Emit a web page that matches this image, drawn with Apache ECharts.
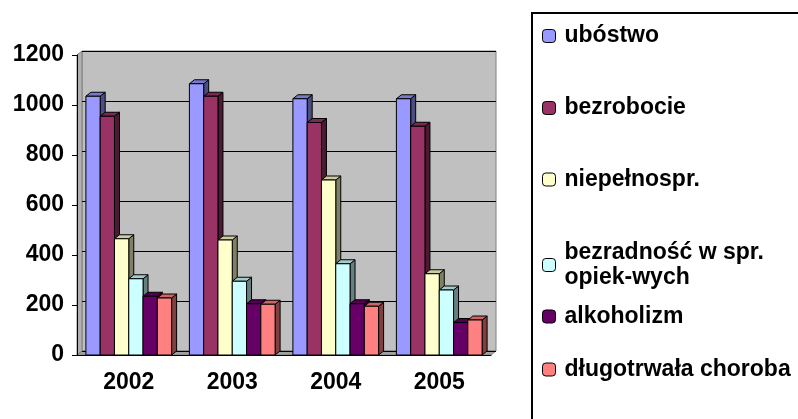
<!DOCTYPE html>
<html>
<head>
<meta charset="utf-8">
<script src="https://cdn.jsdelivr.net/npm/echarts@6/dist/echarts.min.js"></script>
<style>
  html, body { margin: 0; padding: 0; background: #fff; }
  #chart { width: 798px; height: 419px; }
</style>
</head>
<body>
<div id="chart"></div>
<script>
const years = ['2002', '2003', '2004', '2005'];
const seriesNames = ['ubóstwo', 'bezrobocie', 'niepełnospr.', 'bezradność w spr. opiek-wych', 'alkoholizm', 'długotrwała choroba'];
const ubostwo = [1035, 1085, 1025, 1025];
const bezrobocie = [955, 1035, 930, 915];
const niepelnospr = [465, 460, 700, 325];
const bezradnosc = [305, 295, 365, 260];
const alkoholizm = [235, 205, 205, 130];
const choroba = [228, 203, 195, 140];
const yTicks = [0, 200, 400, 600, 800, 1000, 1200];

const allValues = [ubostwo, bezrobocie, niepelnospr, bezradnosc, alkoholizm, choroba];
const colors = ['#9999ff', '#993366', '#ffffcc', '#ccffff', '#660066', '#ff8080'];
const legendCenters = [35.5, 107.5, 179, 252.5, 316, 369];

const FONT = '"Liberation Sans", Arial, sans-serif';
const FS = 23;
const DX = 5, DY = 4;

function shade(hex, f) {
    const n = parseInt(hex.slice(1), 16);
    const r = Math.round(((n >> 16) & 255) * f);
    const g = Math.round(((n >> 8) & 255) * f);
    const b = Math.round((n & 255) * f);
    return 'rgb(' + r + ',' + g + ',' + b + ')';
}

function makeRender(sIdx) {
    return function (params, api) {
        const ci = api.value(0);
        const v = api.value(1);
        const base = api.coord([ci, 0]);
        const top = api.coord([ci, v]);
        const band = api.size([1, 0])[0];
        const w = band * 0.138;
        const x0 = base[0] - 3 * w + sIdx * w;
        const col = colors[sIdx];
        const stroke = {stroke: '#000', lineWidth: 1};
        return {
            type: 'group',
            children: [
                {
                    type: 'polygon',
                    shape: {points: [[x0 + w, top[1]], [x0 + w + DX, top[1] - DY], [x0 + w + DX, base[1] - DY], [x0 + w, base[1]]]},
                    style: Object.assign({fill: shade(col, 0.5)}, stroke)
                },
                {
                    type: 'polygon',
                    shape: {points: [[x0, top[1]], [x0 + DX, top[1] - DY], [x0 + w + DX, top[1] - DY], [x0 + w, top[1]]]},
                    style: Object.assign({fill: shade(col, 0.8)}, stroke)
                },
                {
                    type: 'rect',
                    shape: {x: x0, y: top[1], width: w, height: base[1] - top[1]},
                    style: Object.assign({fill: col}, stroke)
                }
            ]
        };
    };
}

const series = seriesNames.map(function (name, s) {
    return {
        name: name,
        type: 'custom',
        xAxisIndex: 0,
        yAxisIndex: 0,
        itemStyle: {color: colors[s]},
        renderItem: makeRender(s),
        encode: {x: 0, y: 1},
        data: allValues[s].map(function (v, i) { return [i, v]; })
    };
});

const legends = seriesNames.map(function (name, s) {
    const twoLines = name.indexOf('opiek') >= 0;
    return {
        data: [name],
        orient: 'vertical',
        left: 542,
        top: twoLines ? legendCenters[s] - 25 : legendCenters[s] - 12,
        padding: 0,
        itemWidth: 13,
        itemHeight: 13,
        selectedMode: false,
        itemStyle: {borderColor: '#000', borderWidth: 1},
        formatter: function (n) { return n.replace(' opiek', '\nopiek'); },
        textStyle: {
            fontFamily: FONT,
            fontWeight: 'bold',
            fontSize: FS,
            color: '#000',
            lineHeight: 25,
            padding: twoLines ? [25, 0, 0, 4] : [0, 0, 0, 4]
        }
    };
});

const chart = echarts.init(document.getElementById('chart'));
chart.setOption({
    animation: false,
    backgroundColor: '#fff',
    grid: [
        {left: 77, right: 307, top: 55, bottom: 64},
        {left: 82, right: 302, top: 51, bottom: 68, show: true, backgroundColor: '#c0c0c0', borderColor: '#808080', borderWidth: 1}
    ],
    graphic: [
        {type: 'polygon', shape: {points: [[77, 55], [82, 51], [82, 351], [77, 355]]}, style: {fill: '#b0b0b0', stroke: '#808080'}},
        {type: 'polygon', shape: {points: [[77, 355], [82, 351], [496, 351], [491, 355]]}, style: {fill: '#a0a0a0', stroke: '#808080'}},
        {type: 'rect', shape: {x: 532, y: 13, width: 300, height: 450}, style: {fill: 'none', stroke: '#000', lineWidth: 2}}
    ],
    legend: legends,
    xAxis: [
        {
            type: 'category',
            gridIndex: 0,
            data: years,
            axisLine: {lineStyle: {color: '#000'}},
            axisTick: {length: 5, lineStyle: {color: '#000'}},
            axisLabel: {fontFamily: FONT, fontWeight: 'bold', fontSize: FS, color: '#000', margin: 16}
        },
        {type: 'category', gridIndex: 1, data: years, show: false}
    ],
    yAxis: [
        {
            type: 'value',
            gridIndex: 0,
            min: yTicks[0],
            max: yTicks[yTicks.length - 1],
            interval: 200,
            splitLine: {show: false},
            axisLine: {show: true, lineStyle: {color: '#000'}},
            axisTick: {show: true, length: 5, lineStyle: {color: '#000'}},
            axisLabel: {
                fontFamily: FONT, fontWeight: 'bold', fontSize: FS, color: '#000', margin: 13,
                formatter: function (v) { return String(v); }
            }
        },
        {
            type: 'value',
            gridIndex: 1,
            min: yTicks[0],
            max: yTicks[yTicks.length - 1],
            interval: 200,
            axisLine: {show: false},
            axisTick: {show: false},
            axisLabel: {show: false},
            splitLine: {lineStyle: {color: '#000', width: 1}}
        }
    ],
    series: series
});
</script>
</body>
</html>
